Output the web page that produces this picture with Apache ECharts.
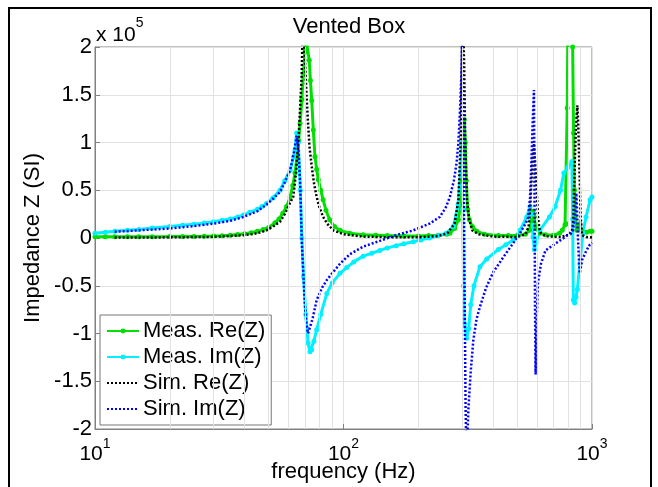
<!DOCTYPE html>
<html>
<head>
<meta charset="utf-8">
<script src="https://cdn.jsdelivr.net/npm/echarts@6/dist/echarts.min.js"></script>
<style>
  html, body { margin: 0; padding: 0; background: #fff; }
  #main { width: 658px; height: 487px; }
</style>
</head>
<body>
<div id="main"></div>
<script>
// values are in units of 10^5 (as on the y axis)
const measRe = [[10,0.012],[11,0.012],[12,0.012],[13.5,0.012],[15,0.013],[17,0.014],[20,0.015],[22.5,0.016],[25,0.017],[27.5,0.018],[30,0.02],[32.5,0.024],[35,0.03],[37.5,0.037],[40,0.045],[42.5,0.055],[45,0.07],[47.5,0.088],[50,0.11],[53,0.16],[55,0.2],[57,0.26],[59,0.33],[61,0.43],[62.5,0.55],[63.8,0.68],[65,0.85],[66,1.02],[66.9,1.2],[68,1.45],[68.9,1.72],[70,1.95],[70.6,2.1],[71.5,2.1],[72.8,1.86],[73.6,1.65],[74.5,1.44],[75.6,1.13],[76.8,0.85],[78,0.72],[79.2,0.61],[81,0.5],[82.8,0.40],[85,0.29],[88,0.19],[92,0.12],[96.8,0.08],[106,0.05],[120,0.035],[135,0.03],[150,0.025],[175,0.022],[200,0.02],[220,0.025],[240,0.03],[260,0.04],[268,0.05],[280,0.1],[290,0.19],[296,0.35],[300,0.6],[302,0.95],[304,1.2],[306,1.24],[309,1.0],[312,0.6],[316,0.3],[321,0.19],[330,0.12],[344,0.07],[370,0.04],[420,0.025],[460,0.025],[500,0.025],[540,0.04],[560,0.08],[572,0.18],[579,0.28],[585,0.22],[595,0.1],[617,0.05],[650,0.035],[699,0.03],[740,0.05],[759,0.08],[779,0.14],[790,0.15],[795,1.36],[800,2.3],[815,2.4],[830,2.3],[836,2.0],[843,1.1],[850,0.5],[855,0.22],[868,0.08],[880,0.12],[893,0.15],[905,0.08],[912,0.05],[950,0.06],[983,0.07],[1000,0.07]];
const measIm = [[10,0.05],[11,0.06],[12,0.07],[13.5,0.08],[15,0.09],[17,0.105],[20,0.12],[22.5,0.133],[25,0.145],[27.5,0.158],[30,0.17],[32.5,0.185],[35,0.2],[37.5,0.22],[39.5,0.24],[42,0.27],[45,0.3],[47,0.33],[49,0.36],[52,0.42],[55.5,0.5],[58,0.6],[61,0.71],[63,0.85],[63.8,0.92],[64.8,1.10],[65.8,1.0],[67,0.5],[68,0.0],[69,-0.4],[70.5,-0.8],[72,-1.1],[73.3,-1.19],[74.5,-1.17],[76,-1.08],[78,-0.96],[81,-0.8],[85.7,-0.58],[90,-0.47],[96.8,-0.37],[103,-0.31],[110,-0.25],[120,-0.19],[130,-0.16],[140,-0.13],[150,-0.105],[163,-0.08],[175,-0.06],[191,-0.04],[205,-0.02],[222,0.0],[240,0.025],[259,0.05],[277,0.12],[289,0.35],[296,0.7],[300,1.0],[302,0.3],[304,-0.5],[307,-0.9],[313,-1.05],[319,-0.95],[325,-0.7],[335,-0.5],[354,-0.3],[377,-0.22],[420,-0.12],[450,-0.07],[482,-0.02],[513,0.08],[546,0.22],[563,0.33],[572,0.25],[579,0.01],[586,-0.12],[595,-0.05],[617,0.08],[674,0.22],[711,0.33],[747,0.50],[770,0.68],[800,0.74],[830,0.80],[836,0.2],[841,-0.65],[852,-0.68],[862,-0.62],[873,-0.54],[893,-0.27],[919,0.05],[946,0.22],[983,0.40],[1000,0.43]];
const simRe = [[12,0.005],[15,0.005],[20,0.007],[30,0.012],[40,0.03],[45,0.05],[49,0.08],[52,0.12],[55.5,0.17],[58,0.25],[61,0.37],[62.8,0.43],[64.5,0.7],[65.9,1.03],[67,1.4],[67.9,1.72],[68.6,2.3],[69.3,2.3],[70,1.86],[71,1.5],[72,1.2],[73,0.95],[74.5,0.75],[76,0.58],[78,0.43],[80,0.32],[82.8,0.22],[86,0.15],[91,0.08],[100,0.04],[120,0.015],[150,0.008],[200,0.008],[240,0.02],[262,0.05],[280,0.15],[290,0.4],[296,1.0],[299,1.8],[301,2.5],[304,2.5],[306,1.8],[309,1.0],[314,0.4],[320,0.2],[330,0.08],[350,0.04],[400,0.015],[500,0.01],[540,0.04],[556,0.12],[563,0.29],[570,0.57],[577,0.85],[584,0.99],[590,0.8],[599,0.5],[606,0.22],[614,0.1],[623,0.05],[650,0.02],[750,0.01],[820,0.04],[835,0.1],[842,0.22],[852,0.78],[860,1.1],[868,1.3],[873,1.39],[880,1.2],[889,0.78],[900,0.22],[912,0.03],[950,0.01],[1000,0.005]];
const simIm = [[12,0.066],[15,0.08],[20,0.10],[25,0.125],[30,0.15],[35,0.18],[39.5,0.22],[45,0.28],[49,0.35],[52,0.41],[55.5,0.48],[58,0.58],[61,0.71],[63,0.88],[64.8,1.07],[66,0.9],[67,0.55],[67.9,-0.02],[69,-0.4],[70,-0.72],[71,-0.9],[72,-1.0],[73,-0.98],[75,-0.85],[78,-0.65],[82,-0.52],[85.7,-0.44],[90,-0.37],[96.8,-0.27],[106,-0.17],[120,-0.09],[140,-0.03],[163,0.03],[191,0.08],[222,0.15],[244,0.22],[258,0.32],[268,0.43],[278,0.6],[285,0.78],[290,1.0],[294,1.31],[298,1.7],[301,2.2],[304,1.0],[307,-0.5],[310,-1.8],[313,-2.3],[318,-1.8],[325,-1.4],[333,-1.07],[343,-0.85],[354,-0.72],[375,-0.52],[400,-0.36],[440,-0.2],[480,-0.06],[513,0.05],[540,0.15],[554,0.22],[563,0.42],[570,0.78],[577,1.2],[584,1.55],[586,0.8],[588,0.08],[590,-0.8],[593,-1.43],[598,-0.9],[606,-0.47],[623,-0.27],[650,-0.13],[711,-0.06],[779,0.01],[838,0.08],[855,0.25],[865,0.47],[870,0.3],[878,0.0],[885,-0.2],[893,-0.37],[900,-0.32],[912,-0.23],[950,-0.13],[980,-0.07],[1000,-0.05]];
// minor grid lines of the log axis
const minorFreqs = [20,30,40,50,60,70,80,90,200,300,400,500,600,700,800,900];
const seriesNames = ['Meas. Re(Z)', 'Meas. Im(Z)', 'Sim. Re(Z)', 'Sim. Im(Z)'];

const FONT = 'Liberation Sans';
const FS = 22;
const chart = echarts.init(document.getElementById('main'));

const option = {
  animation: false,
  backgroundColor: '#fff',
  textStyle: { fontFamily: FONT },
  title: {
    text: 'Vented Box',
    left: 344, top: 11, textAlign: 'center',
    textStyle: { fontFamily: FONT, fontSize: FS, fontWeight: 'normal', color: '#000' },
  },
  grid: {
    left: 95, right: 66, top: 47, bottom: 58,
    outerBoundsMode: 'none', containLabel: false,
    show: true, borderColor: '#808080', borderWidth: 1,
  },
  legend: {
    data: [
      { name: seriesNames[0] },
      { name: seriesNames[1] },
      { name: seriesNames[2], itemStyle: { opacity: 0 } },
      { name: seriesNames[3], itemStyle: { opacity: 0 } },
    ],
    orient: 'vertical',
    left: 100, top: 315,
    itemWidth: 32, itemHeight: 6, itemGap: 4,
    padding: [5, 6, 5, 6],
    backgroundColor: '#fff',
    borderColor: '#777', borderWidth: 1, borderRadius: 0,
    textStyle: { fontFamily: FONT, fontSize: FS, color: '#000', padding: [0, 0, 0, -1] },
  },
  xAxis: {
    type: 'log', logBase: 10, min: 10, max: 1000,
    name: 'frequency (Hz)', nameLocation: 'middle', nameGap: 32,
    nameMoveOverlap: false,
    nameTextStyle: { fontFamily: FONT, fontSize: FS, color: '#000' },
    axisLine: { onZero: false, lineStyle: { color: '#808080' } },
    axisTick: { inside: true, length: 5, lineStyle: { color: '#808080' } },
    splitLine: { show: true, lineStyle: { color: '#e2e2e2', width: 1 } },
    axisLabel: {
      margin: 8, color: '#000',
      formatter: function (v) {
        return '{b|10}{s|' + Math.round(Math.log10(v)) + '}';
      },
      rich: {
        b: { fontFamily: FONT, fontSize: 21, color: '#000', lineHeight: 28, verticalAlign: 'bottom' },
        s: { fontFamily: FONT, fontSize: 14, color: '#000', lineHeight: 28, verticalAlign: 'top' },
      },
    },
  },
  yAxis: {
    type: 'value', min: -2, max: 2, interval: 0.5,
    name: 'Impedance Z (SI)', nameLocation: 'middle', nameGap: 51,
    nameMoveOverlap: false,
    nameTextStyle: { fontFamily: FONT, fontSize: FS, color: '#000' },
    axisLine: { show: true, lineStyle: { color: '#808080' } },
    axisTick: { show: true, inside: true, length: 5, lineStyle: { color: '#808080' } },
    splitLine: { show: true, lineStyle: { color: '#e2e2e2', width: 1 } },
    axisLabel: { fontFamily: FONT, fontSize: FS, color: '#000', margin: 3 },
  },
  graphic: [
    {
      type: 'rect', silent: true,
      shape: { x: 9, y: 8, width: 642, height: 500 },
      style: { fill: null, stroke: '#000', lineWidth: 2 },
    },
    {
      type: 'text', left: 96, top: 16, silent: true,
      style: {
        text: '{a|x 10}{b|5}',
        rich: {
          a: { fontFamily: FONT, fontSize: 21, fill: '#000', lineHeight: 30, verticalAlign: 'bottom' },
          b: { fontFamily: FONT, fontSize: 14, fill: '#000', lineHeight: 30, verticalAlign: 'top' },
        },
      },
    },
  ],
  series: [
    {
      name: 'grid', type: 'line', data: [], silent: true, z: 1,
      markLine: {
        silent: true, symbol: 'none', animation: false,
        label: { show: false },
        lineStyle: { color: '#e2e2e2', width: 1, type: 'solid' },
        data: minorFreqs.map(f => ({ xAxis: f })),
      },
    },
    {
      name: seriesNames[0], type: 'line', data: measRe, z: 3,
      symbol: 'circle', symbolSize: 5, showSymbol: true,
      itemStyle: { color: '#00e000' },
      lineStyle: { color: '#00e000', width: 3 },
    },
    {
      name: seriesNames[1], type: 'line', data: measIm, z: 3,
      symbol: 'circle', symbolSize: 5, showSymbol: true,
      itemStyle: { color: '#00f0ff' },
      lineStyle: { color: '#00f0ff', width: 3 },
    },
    {
      name: seriesNames[2], type: 'line', data: simRe, z: 4,
      showSymbol: false, symbol: 'none',
      itemStyle: { color: '#000' },
      lineStyle: { color: '#000', width: 2.5, type: [2, 2] },
    },
    {
      name: seriesNames[3], type: 'line', data: simIm, z: 4,
      showSymbol: false, symbol: 'none',
      itemStyle: { color: '#0000ff' },
      lineStyle: { color: '#0000ff', width: 2.5, type: [2, 2] },
    },
  ],
};

chart.setOption(option);
</script>
</body>
</html>
